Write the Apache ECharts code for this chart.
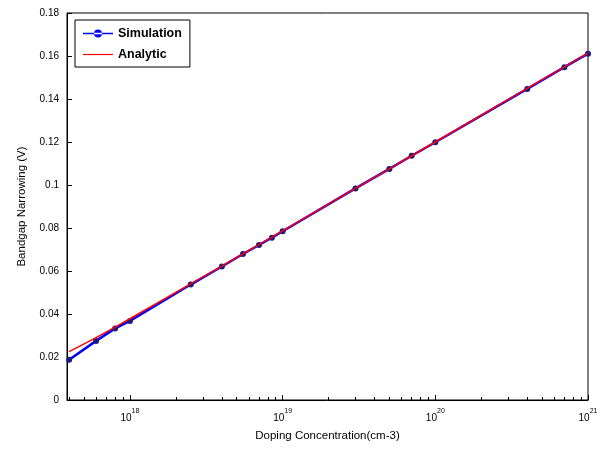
<!DOCTYPE html>
<html>
<head>
<meta charset="utf-8">
<script src="https://cdn.jsdelivr.net/npm/echarts@6/dist/echarts.min.js"></script>
<style>
  html, body { margin: 0; padding: 0; background: #fff; }
  #main { width: 597px; height: 453px; }
</style>
</head>
<body>
<div id="main"></div>
<script>
// doping concentration (cm-3)
var conc = [4e17, 6e17, 8e17, 1e18, 2.5e18, 4e18, 5.5e18, 7e18, 8.5e18, 1e19,
            3e19, 5e19, 7e19, 1e20, 4e20, 7e20, 1e21];
// bandgap narrowing (V)
var simulation = [0.0187, 0.0275, 0.0333, 0.0368, 0.0537, 0.0621, 0.0679, 0.0721, 0.0755, 0.0785,
                  0.0984, 0.1075, 0.1136, 0.1199, 0.1447, 0.1548, 0.1611];
var analytic = [0.0225, 0.0290, 0.0339, 0.0378, 0.0540, 0.0623, 0.0680, 0.0723, 0.0758, 0.0787,
                0.0984, 0.1075, 0.1136, 0.1200, 0.1449, 0.1549, 0.1613];
var yTicks = [0, 0.02, 0.04, 0.06, 0.08, 0.1, 0.12, 0.14, 0.16, 0.18];

var myChart = echarts.init(document.getElementById('main'));

function pairs(ys) {
    var out = [];
    for (var i = 0; i < conc.length; i++) {
        out.push([conc[i], ys[i]]);
    }
    return out;
}

var option = {
    backgroundColor: '#fff',
    animation: false,
    grid: {
        left: 67, right: 9, top: 13, bottom: 53,
        outerBoundsMode: 'none',
        containLabel: false,
        show: true,
        borderColor: '#000',
        borderWidth: 1
    },
    legend: {
        left: 75, top: 20,
        orient: 'vertical',
        itemGap: 8,
        itemWidth: 30,
        itemHeight: 8,
        padding: [7, 8, 6, 8],
        borderColor: '#000',
        borderWidth: 1,
        backgroundColor: '#fff',
        textStyle: { color: '#000', fontSize: 12.5, fontWeight: 'bold', fontFamily: 'Liberation Sans' },
        data: [
            { name: 'Simulation', itemStyle: { color: '#0000ff' },
              icon: 'path://M0,3.8 L30,3.8 L30,5.2 L0,5.2 Z M11,4.5 A4,4 0 1 0 19,4.5 A4,4 0 1 0 11,4.5 Z' },
            { name: 'Analytic', icon: 'path://M0,4 L30,4 L30,5.2 L0,5.2 Z' }
        ]
    },
    xAxis: {
        type: 'log',
        logBase: 10,
        min: 3.87e17,
        max: 1e21,
        name: 'Doping Concentration(cm-3)',
        nameLocation: 'middle',
        nameGap: 30,
        nameTextStyle: { color: '#000', fontSize: 11.5, fontFamily: 'Liberation Sans' },
        axisLine: { show: true, lineStyle: { color: '#000' } },
        axisTick: { inside: true, length: 5, lineStyle: { color: '#000' } },
        minorTick: { show: true, splitNumber: 9, length: 3, lineStyle: { color: '#000' } },
        splitLine: { show: false },
        axisLabel: {
            color: '#000',
            margin: 8,
            showMinLabel: true,
            formatter: function (v) {
                var e = Math.log(v) / Math.LN10;
                if (Math.abs(e - Math.round(e)) > 1e-6) return '';
                return '{b|10}{s|' + Math.round(e) + '}';
            },
            rich: {
                b: { fontSize: 10, color: '#000', fontFamily: 'Liberation Sans', verticalAlign: 'bottom' },
                s: { fontSize: 7, color: '#000', fontFamily: 'Liberation Sans', verticalAlign: 'top', padding: [0, 0, 8, 0] }
            }
        }
    },
    yAxis: {
        type: 'value',
        min: 0,
        max: 0.18,
        interval: 0.02,
        name: 'Bandgap Narrowing (V)',
        nameLocation: 'middle',
        nameGap: 39,
        nameTextStyle: { color: '#000', fontSize: 11.5, fontFamily: 'Liberation Sans' },
        axisLine: { show: true, lineStyle: { color: '#000' } },
        axisTick: { inside: true, length: 5, lineStyle: { color: '#000' } },
        splitLine: { show: false },
        axisLabel: {
            color: '#000',
            fontSize: 10,
            fontFamily: 'Liberation Sans',
            formatter: function (v) {
                for (var i = 0; i < yTicks.length; i++) {
                    if (Math.abs(yTicks[i] - v) < 1e-9) return String(yTicks[i]);
                }
                return '';
            }
        }
    },
    series: [
        {
            name: 'Simulation',
            type: 'line',
            data: pairs(simulation),
            color: '#0000ff',
            symbol: 'circle',
            symbolSize: 6,
            itemStyle: { color: '#1a1a80' },
            lineStyle: { color: '#0000ff', width: 2.5 },
            z: 2
        },
        {
            name: 'Analytic',
            type: 'line',
            data: pairs(analytic),
            color: '#ff0000',
            showSymbol: false,
            symbol: 'none',
            lineStyle: { color: '#ff0000', width: 1.5 },
            z: 3
        }
    ]
};

myChart.setOption(option);
window.addEventListener("resize", function () {
    myChart.resize();
});
</script>
</body>
</html>
